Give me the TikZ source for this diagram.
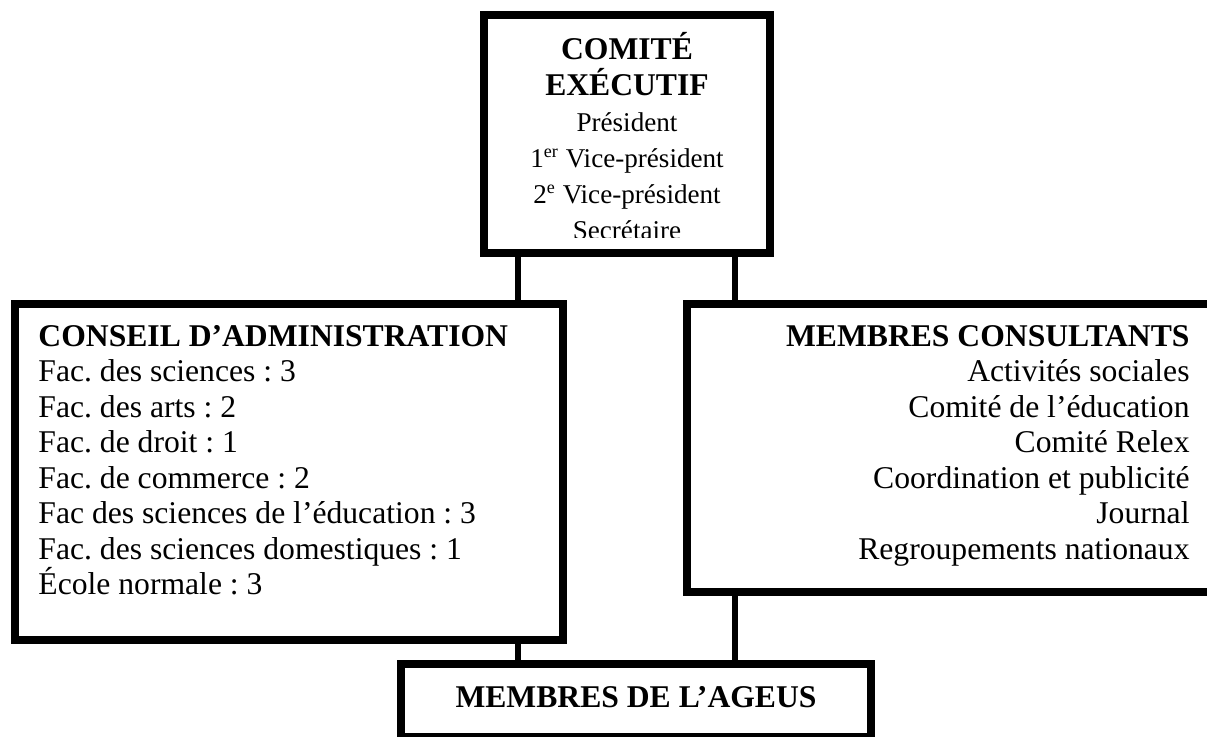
\documentclass[tikz,border=0pt]{standalone}
\usepackage{fontspec}
\setmainfont{Liberation Serif}
\frenchspacing
\usetikzlibrary{calc}
\newcommand{\px}{0.4425pt}
\tikzset{
  box/.style={draw, line width=8.5*\px, inner sep=0pt, outer sep=0pt},
  link/.style={line width=5.5*\px},
  txt/.style={inner sep=0pt, font=\fontsize{14}{15.7}\selectfont},
  petit/.style={inner sep=0pt, font=\fontsize{12}{15.93}\selectfont}
}
\newcommand{\titre}[1]{{\fontsize{14}{15.93}\selectfont\bfseries #1}}
\begin{document}
\begin{tikzpicture}[x=\px,y=-\px]
  \clip (0,0) rectangle (1207,736);
  % boites
  \node[box, minimum width=286*\px, minimum height=238*\px] (comite) at (627,134) {};
  \node[box, minimum width=548*\px, minimum height=336*\px] (conseil) at (289,472) {};
  \node[box, minimum width=527*\px, minimum height=288*\px] (consult) at (950.5,448) {};
  \node[box, minimum width=470*\px, minimum height=73*\px] (membres) at (636,700.5) {};
  % liens
  \coordinate (gauche) at (518,0);
  \coordinate (droite) at (735,0);
  \draw[link] (comite.south -| gauche) -- (conseil.north -| gauche);
  \draw[link] (comite.south -| droite) -- (consult.north -| droite);
  \draw[link] (conseil.south -| gauche) -- (membres.north -| gauche);
  \draw[link] (consult.south -| droite) -- (membres.north -| droite);
  % textes
  \begin{scope}
    \clip (comite.north west) rectangle ($(comite.south east)+(0,-16)$);
    \node[petit, anchor=north, align=center] (comitetxt) at (627,32)
      {\titre{COMITÉ}\\\titre{EXÉCUTIF}\\Président\\1\textsuperscript{er} Vice-président\\2\textsuperscript{e} Vice-président\\Secrétaire};
  \end{scope}
  \node[txt, anchor=north west, align=left] (conseiltxt) at (38,325)
    {\textbf{CONSEIL D’ADMINISTRATION}\\Fac. des sciences : 3\\Fac. des arts : 2\\Fac. de droit : 1\\Fac. de commerce : 2\\Fac des sciences de l’éducation : 3\\Fac. des sciences domestiques : 1\\École normale : 3};
  \node[txt, anchor=north east, align=right] (consulttxt) at (1190,325)
    {\textbf{MEMBRES CONSULTANTS}\\Activités sociales\\Comité de l’éducation\\Comité Relex\\Coordination et publicité\\Journal\\Regroupements nationaux};
  \node[txt, anchor=base, font=\fontsize{14}{15.7}\selectfont\bfseries] (membrestxt) at (636,707) {MEMBRES DE L’AGEUS};
\end{tikzpicture}
\end{document}
